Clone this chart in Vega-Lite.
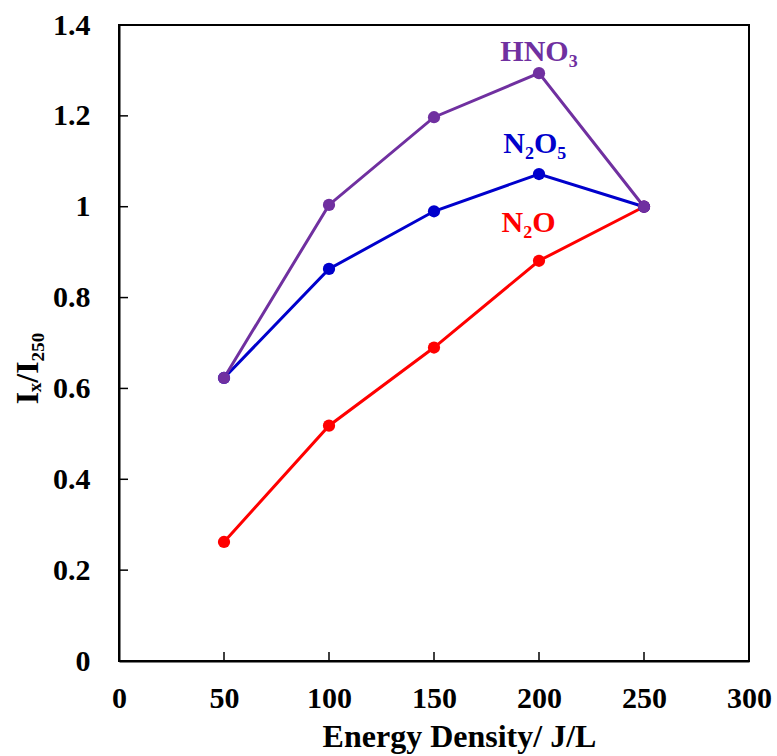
{
  "$schema": "https://vega.github.io/schema/vega-lite/v6.json",
  "width": 630,
  "height": 636,
  "autosize": {"type": "none"},
  "padding": {"left": 119, "top": 25, "right": 28, "bottom": 95},
  "background": "white",
  "config": {
    "view": {"stroke": "black", "strokeWidth": 2},
    "font": "Liberation Serif",
    "axis": {
      "grid": false,
      "zindex": 1,
      "domainColor": "black",
      "domainWidth": 2,
      "ticks": false,
      "tickSize": 0,
      "labelFlush": false,
      "labelFont": "Liberation Serif",
      "labelFontWeight": "bold",
      "labelFontSize": 30,
      "labelColor": "black",
      "titleFont": "Liberation Serif",
      "titleFontWeight": "bold",
      "titleFontSize": 32,
      "titleColor": "black"
    }
  },
  "datasets": {
    "series": [
      {"x": 50, "y": 0.262, "s": "N2O"},
      {"x": 100, "y": 0.518, "s": "N2O"},
      {"x": 150, "y": 0.690, "s": "N2O"},
      {"x": 200, "y": 0.881, "s": "N2O"},
      {"x": 250, "y": 1.0, "s": "N2O"},
      {"x": 50, "y": 0.623, "s": "N2O5"},
      {"x": 100, "y": 0.863, "s": "N2O5"},
      {"x": 150, "y": 0.990, "s": "N2O5"},
      {"x": 200, "y": 1.072, "s": "N2O5"},
      {"x": 250, "y": 1.0, "s": "N2O5"},
      {"x": 50, "y": 0.623, "s": "HNO3"},
      {"x": 100, "y": 1.004, "s": "HNO3"},
      {"x": 150, "y": 1.197, "s": "HNO3"},
      {"x": 200, "y": 1.294, "s": "HNO3"},
      {"x": 250, "y": 1.0, "s": "HNO3"}
    ],
    "labels": [
      {"x": 200, "y": 1.34, "s": "HNO3", "t": "HNO₃"},
      {"x": 198, "y": 1.138, "s": "N2O5", "t": "N₂O₅"},
      {"x": 195, "y": 0.965, "s": "N2O", "t": "N₂O"}
    ],
    "xticks": [{"v": 50}, {"v": 100}, {"v": 150}, {"v": 200}, {"v": 250}],
    "yticks": [{"v": 0.2}, {"v": 0.4}, {"v": 0.6}, {"v": 0.8}, {"v": 1}, {"v": 1.2}]
  },
  "layer": [
    {
      "data": {"name": "series"},
      "mark": {"type": "line", "strokeWidth": 3},
      "encoding": {
        "x": {
          "field": "x", "type": "quantitative",
          "scale": {"domain": [0, 300], "nice": false},
          "axis": {"values": [0, 50, 100, 150, 200, 250, 300], "format": "d", "title": "Energy Density/ J/L", "labelPadding": 22, "titlePadding": 8, "titleX": 340}
        },
        "y": {
          "field": "y", "type": "quantitative",
          "scale": {"domain": [0, 1.4], "nice": false},
          "axis": {"values": [0, 0.2, 0.4, 0.6, 0.8, 1, 1.2, 1.4], "format": "~g", "title": "Iₓ/I₂₅₀", "labelPadding": 29, "titlePadding": 8, "titleY": 343}
        },
        "color": {
          "field": "s", "type": "nominal",
          "scale": {"domain": ["N2O", "N2O5", "HNO3"], "range": ["#FF0000", "#0000CC", "#7030A0"]},
          "legend": null
        },
        "order": {"field": "x", "type": "quantitative"}
      }
    },
    {
      "data": {"name": "series"},
      "mark": {"type": "circle", "size": 150, "opacity": 1},
      "encoding": {
        "x": {"field": "x", "type": "quantitative"},
        "y": {"field": "y", "type": "quantitative"},
        "color": {"field": "s", "type": "nominal", "legend": null}
      }
    },
    {
      "data": {"name": "labels"},
      "mark": {"type": "text", "font": "Liberation Serif", "fontWeight": "bold", "fontSize": 30, "align": "center", "baseline": "middle"},
      "encoding": {
        "x": {"field": "x", "type": "quantitative"},
        "y": {"field": "y", "type": "quantitative"},
        "color": {"field": "s", "type": "nominal", "legend": null},
        "text": {"field": "t"}
      }
    },
    {
      "data": {"name": "xticks"},
      "mark": {"type": "tick", "orient": "vertical", "size": 9, "thickness": 1.5, "yOffset": -4.5, "color": "black", "opacity": 1},
      "encoding": {
        "x": {"field": "v", "type": "quantitative"},
        "y": {"datum": 0, "type": "quantitative"}
      }
    },
    {
      "data": {"name": "yticks"},
      "mark": {"type": "tick", "orient": "horizontal", "size": 9, "thickness": 1.5, "xOffset": 4.5, "color": "black", "opacity": 1},
      "encoding": {
        "y": {"field": "v", "type": "quantitative"},
        "x": {"datum": 0, "type": "quantitative"}
      }
    }
  ]
}
